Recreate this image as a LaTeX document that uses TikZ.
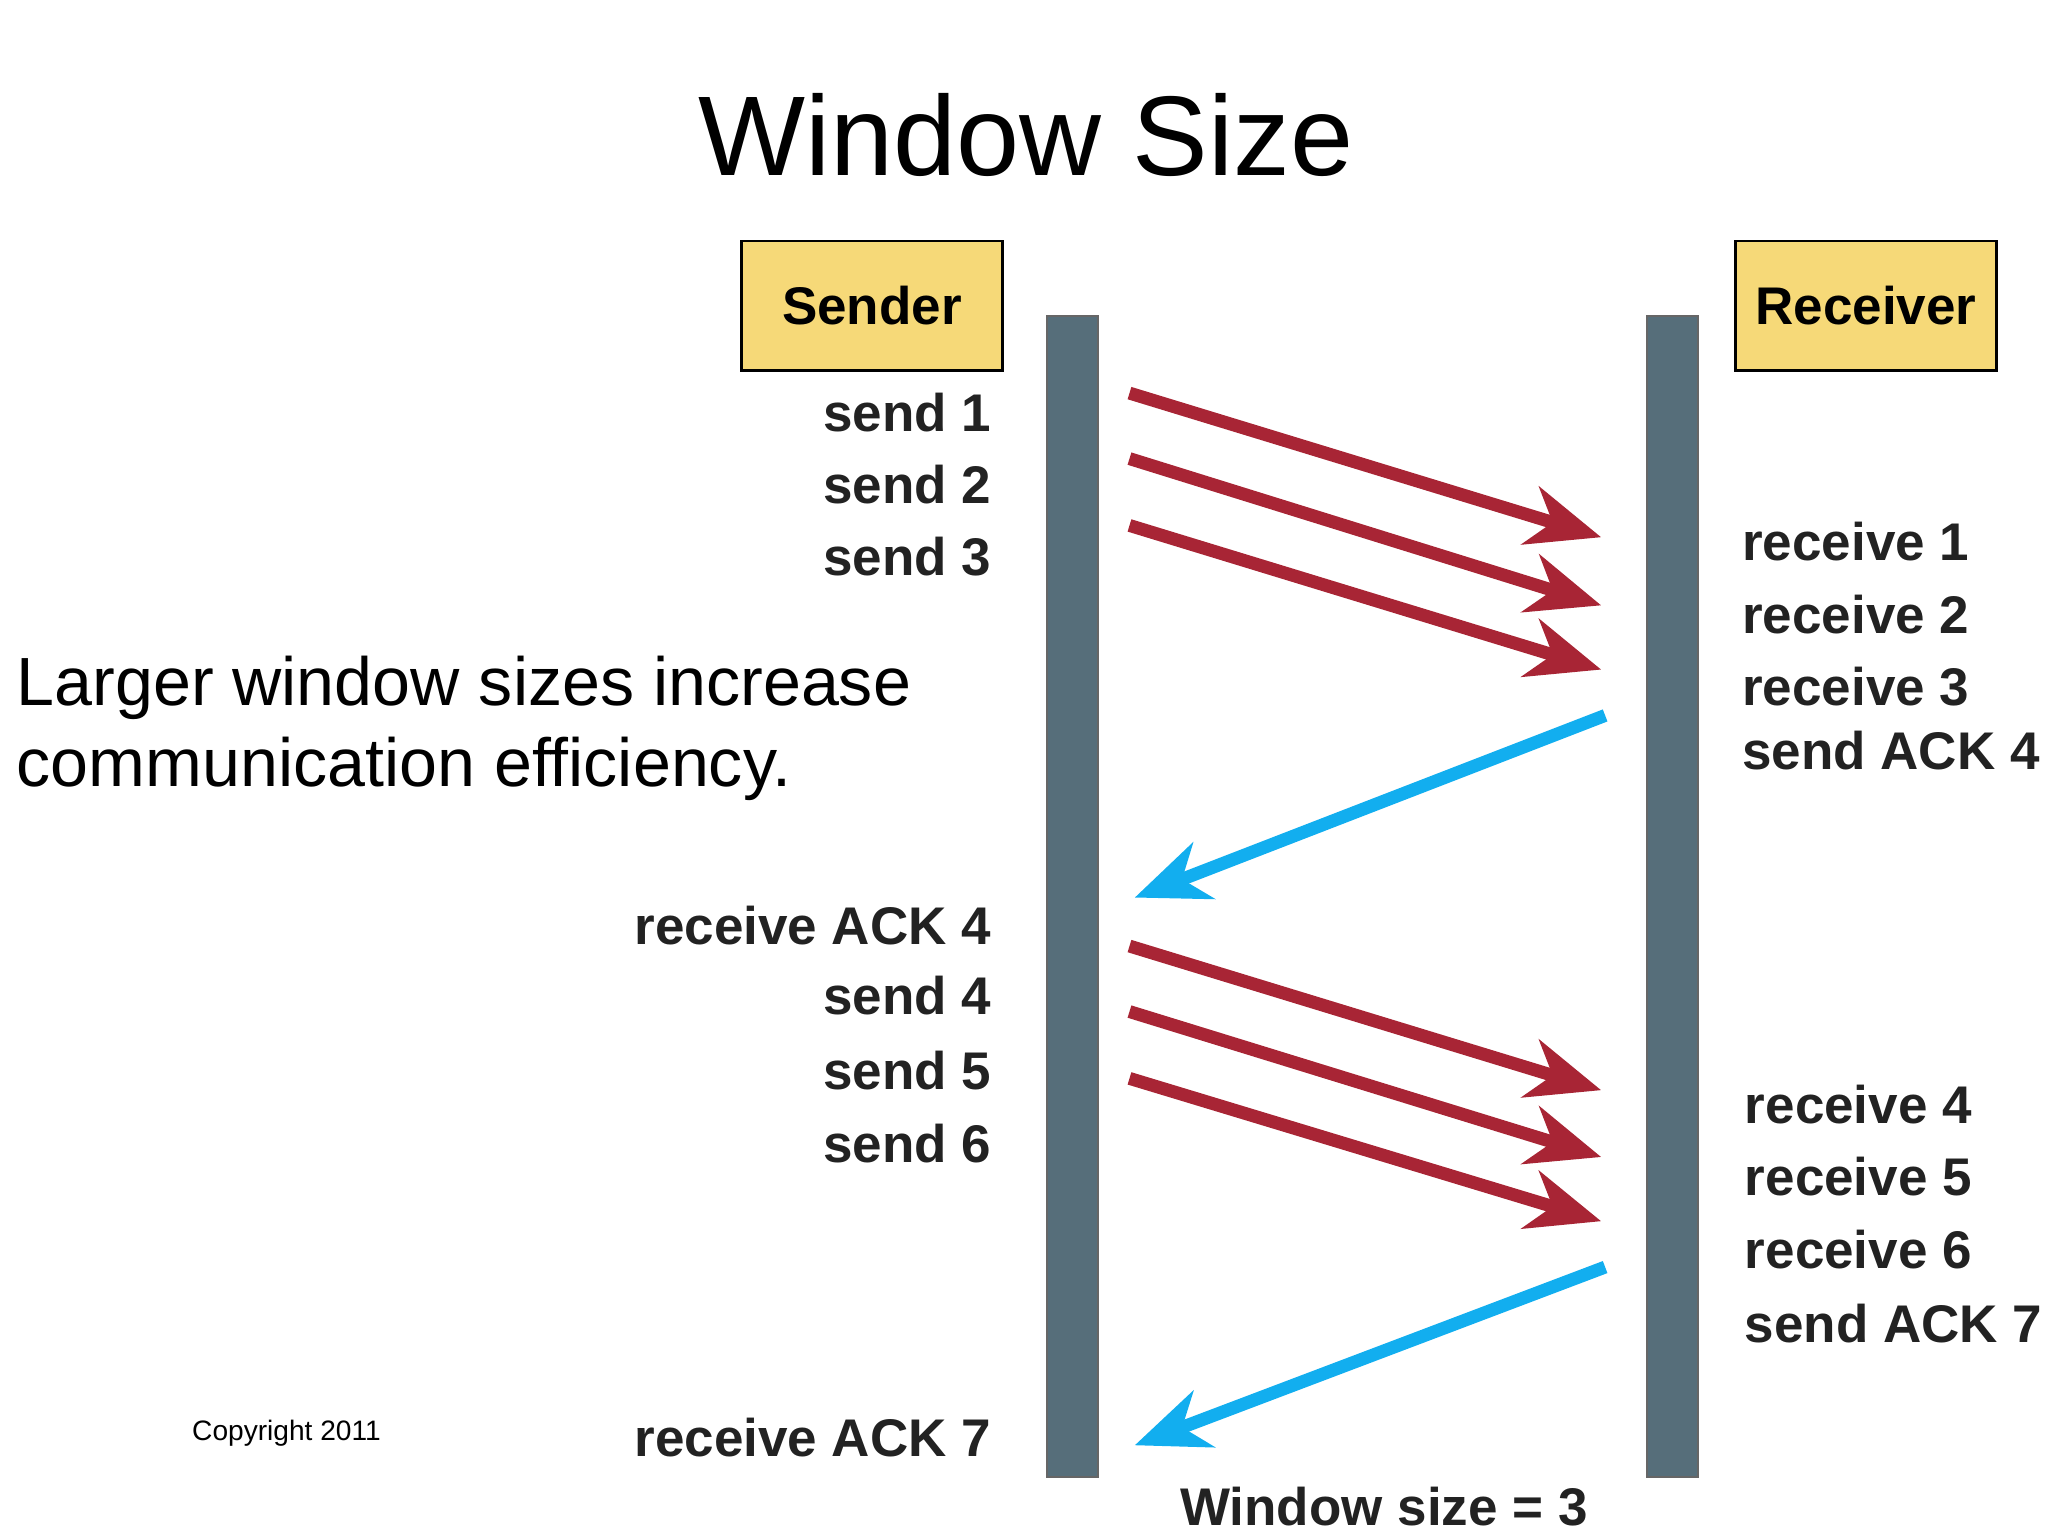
\documentclass[tikz,border=0pt]{standalone}
\usepackage{fontspec}
\setmainfont{Liberation Sans}
\usetikzlibrary{arrows.meta}
\definecolor{boxy}{HTML}{F6D978}
\definecolor{bar}{HTML}{566E7A}
\definecolor{redar}{HTML}{A82535}
\definecolor{bluear}{HTML}{12AEEF}
\definecolor{lab}{HTML}{222222}
\begin{document}
\begin{tikzpicture}[x=0.01cm,y=-0.01cm,
  hdr/.style={draw=black,line width=0.6pt,fill=boxy,minimum width=1.99cm,minimum height=0.99cm,inner sep=0,font=\fontsize{11.5}{13}\selectfont\bfseries},
  bar/.style={draw=black!60,line width=0.4pt,fill=bar},
  sl/.style={anchor=east,font=\fontsize{11.5}{13}\selectfont\bfseries,text=lab,inner sep=0},
  rl/.style={anchor=west,font=\fontsize{11.5}{13}\selectfont\bfseries,text=lab,inner sep=0},
  data/.style={draw=redar,line width=2.8pt,-{Stealth[length=16pt,width=13pt,inset=5pt]}},
  ack/.style={draw=bluear,line width=2.8pt,-{Stealth[length=16pt,width=13pt,inset=5pt]}}]
\useasboundingbox (0,0) rectangle (1563,1172);
\node (title) at (783,103) {\fontsize{24.6}{28}\selectfont Window Size};
\node[hdr] (snd) at (665.5,233.5) {Sender};
\node[hdr] (rcv) at (1424,233.5) {Receiver};
\filldraw[bar] (799,241) rectangle (838,1127);
\filldraw[bar] (1257,241) rectangle (1296,1127);
\foreach \n/\y/\t in {s1/315/send 1,s2/370/send 2,s3/425/send 3,ra4/706/receive ACK 4,s4/760/send 4,s5/817/send 5,s6/873/send 6,ra7/1097/receive ACK 7}
  \node[sl] (\n) at (757,\y) {\t};
\foreach \n/\y/\t in {r1/413/receive 1,r2/469/receive 2,r3/524/receive 3,sa4/573/send ACK 4}
  \node[rl] (\n) at (1329,\y) {\t};
\foreach \n/\y/\t in {r4/843/receive 4,r5/898/receive 5,r6/954/receive 6,sa7/1010/send ACK 7}
  \node[rl] (\n) at (1331,\y) {\t};
\node[anchor=west,align=left,inner sep=0,font=\fontsize{14.8}{17.6}\selectfont] (note) at (12,556) {Larger window sizes increase\\communication efficiency.};
\node[anchor=west,inner sep=0,font=\fontsize{6.1}{7}\selectfont] (copy) at (146,1094) {Copyright 2011};
\node[anchor=west,inner sep=0,font=\fontsize{11.5}{13}\selectfont\bfseries,text=lab] (ws) at (900,1150) {Window size = 3};
\foreach \i/\ya/\yb in {1/300/410,2/350/462,3/401/511,4/722/832,5/772/883,6/823/932}{
  \coordinate (a\i) at (862,\ya); \coordinate (b\i) at (1222,\yb);
  \draw[data] (a\i) -- (b\i);}
\coordinate (k1) at (1225,546); \coordinate (k2) at (866,685);
\coordinate (k3) at (1225,967); \coordinate (k4) at (866,1103);
\draw[ack] (k1) -- (k2);
\draw[ack] (k3) -- (k4);
\end{tikzpicture}
\end{document}
